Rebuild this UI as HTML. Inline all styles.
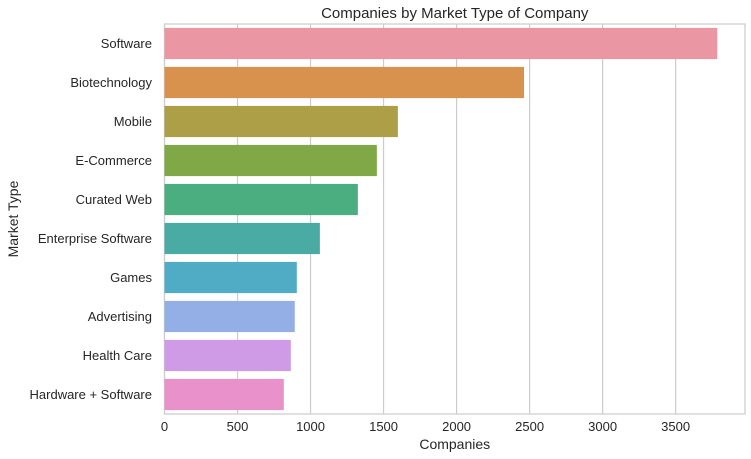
<!DOCTYPE html>
<html><head><meta charset="utf-8"><style>
body{margin:0;background:#fff;}
svg{display:block;font-family:"Liberation Sans",sans-serif;}
</style></head><body>
<svg id="chart" width="751" height="459" xmlns="http://www.w3.org/2000/svg"></svg>
<script>
const categories=["Software","Biotechnology","Mobile","E-Commerce","Curated Web","Enterprise Software","Games","Advertising","Health Care","Hardware + Software"];
const values=[3785,2462,1598,1454,1324,1064,906,892,865,817];
const colors=["#ea96a3","#d8924e","#ad9e48","#80a846","#4aae80","#4aaba5","#50acc4","#94aee6","#cf9ae6","#e991cb"];
const xTicks=[0,500,1000,1500,2000,2500,3000,3500];
const L=164.5,R=745,T=24,B=414,xMax=3975;
const svg=document.getElementById('chart');
const NS='http://www.w3.org/2000/svg';
function x(v){return L+(v/xMax)*(R-L);}
const band=(B-T)/categories.length;
function y(i){return T+band*(i+0.5);}
function mk(tag,attrs,parent){const e=document.createElementNS(NS,tag);for(const k in attrs)e.setAttribute(k,attrs[k]);(parent||svg).appendChild(e);return e;}
const frame=mk('rect',{x:L,y:T,width:R-L,height:B-T,fill:'#fff',stroke:'#cccccc','stroke-width':1.2});


xTicks.forEach(t=>{
  const g=mk('line',{x1:x(t),x2:x(t),y1:T,y2:B,stroke:'#cccccc','stroke-width':1.2});
  
  
  const lb=mk('text',{x:x(t),y:431,'text-anchor':'middle','font-size':13,fill:'#262626'});
  lb.textContent=t;
  
  
});
categories.forEach((c,i)=>{
  const h=band*0.8;
  const r=mk('rect',{x:x(0),y:y(i)-h/2,width:x(values[i])-x(0),height:h,fill:colors[i]});
  
  
  const lb=mk('text',{x:152,y:y(i)+4.5,'text-anchor':'end','font-size':13,fill:'#262626'});
  lb.textContent=c;
  
  
});
const title=mk('text',{x:(L+R)/2,y:18,'text-anchor':'middle','font-size':15,fill:'#262626'});
title.textContent='Companies by Market Type of Company';


const xl=mk('text',{x:(L+R)/2,y:449,'text-anchor':'middle','font-size':14,fill:'#262626'});
xl.textContent='Companies';


const yl=mk('text',{x:0,y:0,'text-anchor':'middle','font-size':14,fill:'#262626',transform:'translate(18,'+((T+B)/2)+') rotate(-90)'});
yl.textContent='Market Type';


</script>
</body></html>
